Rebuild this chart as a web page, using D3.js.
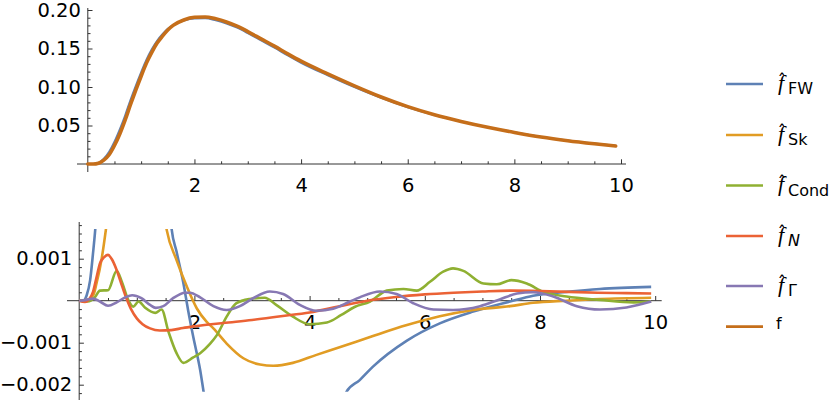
<!DOCTYPE html>
<html><head><meta charset="utf-8">
<script src="https://cdn.jsdelivr.net/npm/d3@7"></script>
<style>
body{margin:0;background:#fff}
svg{display:block}
text{font-family:"DejaVu Sans",sans-serif;fill:#000}
</style>
</head><body>
<svg id="chart" width="830" height="401"></svg>
<script>
// ---------- data ----------
// top panel: density f and the Fenton-Wilkinson approximation
const topX  = [0,0.1,0.2,0.3,0.4,0.5,0.6,0.7,0.8,0.9,1.0,1.1,1.2,1.3,1.4,1.5,1.6,1.8,2.0,2.2,2.4,2.6,2.8,3.0,3.25,3.5,3.75,4.0,4.5,5.0,5.5,6.0,6.5,7.0,7.5,8.0,8.5,9.0,9.5,9.9];
const fTop  = [0,0,0.001,0.005,0.012,0.024,0.039,0.057,0.077,0.096,0.114,0.131,0.145,0.157,0.166,0.174,0.180,0.187,0.1905,0.191,0.1885,0.1845,0.179,0.172,0.1625,0.153,0.143,0.1335,0.117,0.1015,0.087,0.0745,0.064,0.0553,0.0477,0.041,0.035,0.0302,0.0262,0.0233];
const fwTop = [0,0,0.0015,0.007,0.016,0.029,0.045,0.063,0.083,0.1015,0.119,0.1355,0.149,0.160,0.1685,0.1755,0.1805,0.1862,0.189,0.1892,0.1865,0.1825,0.177,0.170,0.1605,0.151,0.141,0.1315,0.1151,0.0998,0.0859,0.07375,0.0636,0.0551,0.0477,0.0411,0.0352,0.0305,0.0265,0.0236];

// bottom panel: errors (approximation - f); null = off the plotted range
const xFW   = [0,0.08,0.13,0.19,0.24,0.28,0.31,0.9,1.57,1.6,1.69,1.81,1.89,1.98,2.1,2.16,2.2,3.5,4.55,4.64,4.87,5.1,5.69,6.26,6.84,7.48,7.88,8.46,9.04,9.93];
const errFW = [0,0.00001,0.00013,0.00049,0.00113,0.00172,0.0023,null,0.0023,0.00176,0.00117,0.00041,-0.00022,-0.00086,-0.00165,-0.00217,-0.0025,null,-0.0025,-0.00217,-0.00189,-0.00157,-0.00095,-0.00054,-0.00026,-0.00002,0.00012,0.00021,0.00028,0.00033];

const xSk   = [0,0.15,0.25,0.3,0.39,0.47,0.52,1.0,1.45,1.52,1.69,1.87,2.04,2.21,2.33,2.56,2.85,3.14,3.37,3.71,4.12,4.52,5.1,5.69,6.26,6.84,7.48,7.88,8.46,9.04,9.93];
const errSk = [0,0.00002,0.00015,0.00041,0.001,0.00176,0.0023,null,0.0023,0.00168,0.00097,0.00033,-0.00018,-0.0005,-0.00066,-0.00102,-0.00137,-0.00152,-0.00155,-0.00148,-0.00129,-0.00111,-0.00084,-0.00058,-0.00037,-0.00022,-0.00013,-0.00005,0,0.00004,0.00007];

const xCond   = [0,0.15,0.27,0.36,0.5,0.65,0.74,0.85,0.94,1.03,1.14,1.32,1.43,1.55,1.69,1.81,1.98,2.1,2.27,2.39,2.56,2.73,2.96,3.22,3.42,3.71,4.0,4.3,4.55,4.78,5.05,5.34,5.63,5.86,6.09,6.32,6.49,6.67,7.02,7.25,7.5,7.77,8.06,8.46,9.04,9.62,9.93];
const errCond = [0,-0.00002,0.00008,0.00024,0.00025,0.00071,0.00045,0.00002,-0.00014,-0.00002,-0.00016,-0.00029,-0.00021,-0.00074,-0.00125,-0.00148,-0.00135,-0.00125,-0.00103,-0.00082,-0.00038,-0.00006,0.00004,0.00007,-0.0001,-0.00038,-0.00056,-0.00052,-0.00034,-0.00015,-0.00002,0.00024,0.00028,0.00024,0.00045,0.00069,0.00077,0.00071,0.00041,0.00039,0.00049,0.00041,0.00021,0.0001,0.00002,-0.00004,-0.00002];

const xN   = [0,0.1,0.18,0.24,0.3,0.36,0.43,0.5,0.57,0.65,0.72,0.8,0.9,1.0,1.1,1.23,1.4,1.6,1.8,2.0,2.5,3.0,3.5,4.0,4.5,5.0,5.5,6.0,6.5,7.0,7.5,8.0,8.5,9.0,9.5,9.93];
const errN = [0,-0.00003,0.00005,0.00021,0.00055,0.00089,0.00103,0.00109,0.00098,0.00073,0.00045,0.00013,-0.0002,-0.00042,-0.00056,-0.00066,-0.00071,-0.0007,-0.00065,-0.00061,-0.00053,-0.00046,-0.00037,-0.00028,-0.00014,0,0.00009,0.00015,0.00019,0.00022,0.00024,0.00023,0.00021,0.00019,0.00018,0.00017];

const xG   = [0,0.12,0.24,0.36,0.5,0.65,0.8,0.92,1.08,1.23,1.33,1.46,1.63,1.84,1.92,2.1,2.33,2.56,2.79,3.02,3.31,3.54,3.83,4.12,4.41,4.7,4.87,5.22,5.51,5.8,6.15,6.49,6.96,7.3,7.6,7.88,8.23,8.64,9.04,9.5,9.93];
const errG = [0,0.00002,0.00005,-0.00002,-0.00012,-0.00004,0.00008,0.00013,0.00006,-0.0001,-0.00017,-0.00013,0.00006,0.00019,0.00019,0.00008,-0.00013,-0.00022,-0.00013,0.00006,0.00022,0.00016,-0.0001,-0.00024,-0.00019,-0.00002,0.00008,0.00022,0.00016,-0.00006,-0.00021,-0.00022,-0.00013,0.00003,0.00017,0.0002,0.0001,-0.00013,-0.00021,-0.00016,-0.00002];

// ticks and legend
const topXTicks = [2,4,6,8,10];
const topYTicks = [0.05,0.10,0.15,0.20];
const botXTicks = [2,4,6,8,10];
const botYTicks = [0.001,-0.001,-0.002];
const legendMain = ["f","f","f","f","f","f"];
const legendSub  = ["FW","Sk","Cond","N","\u0393",""];
const legendHat  = [true,true,true,true,true,false];
const colors = ["#5E81B5","#E19C24","#8FB032","#EB6235","#8778B3","#C56E1A"];

// ---------- layout ----------
const svg = d3.select("#chart");
const axisColor = "#333";
const tickFont = 19.5;

const xT = d3.scaleLinear().domain([0,10]).range([87.8,621]);
const yT = d3.scaleLinear().domain([0,0.2]).range([164,10]);
const xB = d3.scaleLinear().domain([0,10]).range([79.2,655.2]);
const yB = d3.scaleLinear().domain([0,0.001]).range([300.7,258.7]);

function minorRange(a,b,step,majorStep){
  const out=[];
  for(let i=Math.round(a/step);i<=Math.round(b/step);i++){
    const v=i*step;
    if(Math.abs(v/majorStep-Math.round(v/majorStep))>1e-6) out.push(+v.toFixed(6));
  }
  return out;
}

function styleAxis(g){
  g.select(".domain").remove();
  g.selectAll(".tick line").attr("stroke",axisColor).attr("stroke-width",1);
  g.selectAll(".tick text").attr("font-size",tickFont).attr("font-family","DejaVu Sans").attr("fill","#000");
}

function panel(x,y,xTicks,yTicks,yFmt,xExt,yExt,yMinorA,yMinorB,yMinorStep,yMajorStep){
  const g = svg.append("g");
  const y0 = y(0), x0 = x(0);
  g.append("g").attr("transform",`translate(0,${y0})`)
    .call(d3.axisBottom(x).tickValues(minorRange(0.5,9.5,0.5,2)).tickSize(-2.7).tickFormat(""))
    .call(styleAxis);
  g.append("g").attr("transform",`translate(${x0},0)`)
    .call(d3.axisLeft(y).tickValues(minorRange(yMinorA,yMinorB,yMinorStep,yMajorStep)).tickSize(-2.7).tickFormat(""))
    .call(styleAxis);
  g.append("g").attr("transform",`translate(0,${y0})`)
    .call(d3.axisBottom(x).tickValues(xTicks).tickSize(-4.7).tickPadding(14).tickFormat(d3.format("d")))
    .call(styleAxis);
  g.append("g").attr("transform",`translate(${x0},0)`)
    .call(d3.axisLeft(y).tickValues(yTicks).tickSize(-4.7).tickPadding(7).tickFormat(yFmt))
    .call(styleAxis);
  g.append("line").attr("x1",xExt[0]).attr("x2",xExt[1]).attr("y1",y0).attr("y2",y0)
    .attr("stroke",axisColor).attr("stroke-width",1);
  g.append("line").attr("x1",x0).attr("x2",x0).attr("y1",yExt[0]).attr("y2",yExt[1])
    .attr("stroke",axisColor).attr("stroke-width",1);
  return g;
}

panel(xT,yT,topXTicks,topYTicks,d3.format(".2f"),[77,626],[8,172],0.01,0.20,0.01,0.05);
panel(xB,yB,botXTicks,botYTicks,d3.format(".3f"),[67,661.7],[222,400],-0.0022,0.0018,0.0002,0.001);

// ---------- top curves ----------
const lineT = d3.line().x(d=>xT(d[0])).y(d=>yT(d[1])).curve(d3.curveMonotoneX);
svg.append("path").datum(d3.zip(topX,fwTop)).attr("d",lineT)
  .attr("fill","none").attr("stroke",colors[0]).attr("stroke-width",2);
svg.append("path").datum(d3.zip(topX,fTop)).attr("d",lineT)
  .attr("fill","none").attr("stroke",colors[5]).attr("stroke-width",3.6).attr("stroke-linecap","round");

// ---------- bottom curves ----------
svg.append("clipPath").attr("id","clipB").append("rect")
  .attr("x",xB(0)-2).attr("width",xB(10)-xB(0)+4)
  .attr("y",yB(0.00171)).attr("height",yB(-0.00217)-yB(0.00171));
const lineB = d3.line().defined(d=>d[1]!==null).x(d=>xB(d[0])).y(d=>yB(d[1])).curve(d3.curveMonotoneX);
const botSeries = [[xFW,errFW],[xSk,errSk],[xCond,errCond],[xN,errN],[xG,errG]];
const gB = svg.append("g").attr("clip-path","url(#clipB)");
botSeries.forEach((s,i)=>{
  gB.append("path").datum(d3.zip(s[0],s[1])).attr("d",lineB)
    .attr("fill","none").attr("stroke",colors[i]).attr("stroke-width",2.6)
    .attr("stroke-linejoin","round");
});

// ---------- legend ----------
const legendY = [84,135,185.5,236,286,326.7];
const lg = svg.append("g");
legendMain.forEach((m,i)=>{
  const ly = legendY[i];
  lg.append("line").attr("x1",726).attr("x2",763).attr("y1",ly).attr("y2",ly)
    .attr("stroke",colors[i]).attr("stroke-width",2.7);
  if(legendHat[i]){
    const t = lg.append("text").attr("font-family","DejaVu Sans");
    t.append("tspan").attr("x",778).attr("y",ly+5.5).attr("font-size",22)
      .attr("font-style","italic").attr("font-family","Liberation Serif").text(m);
    t.append("tspan").attr("x",777.5).attr("y",ly+3).attr("font-size",18).text("\u02C6");
    t.append("tspan").attr("x",788).attr("y",ly+10.3).attr("font-size",16)
      .attr("font-style",legendSub[i]==="N"?"italic":"normal").text(legendSub[i]);
  } else {
    lg.append("text").attr("x",776).attr("y",ly+2.6).attr("font-size",16)
      .attr("font-family","DejaVu Sans").text(m);
  }
});
</script>
</body></html>
